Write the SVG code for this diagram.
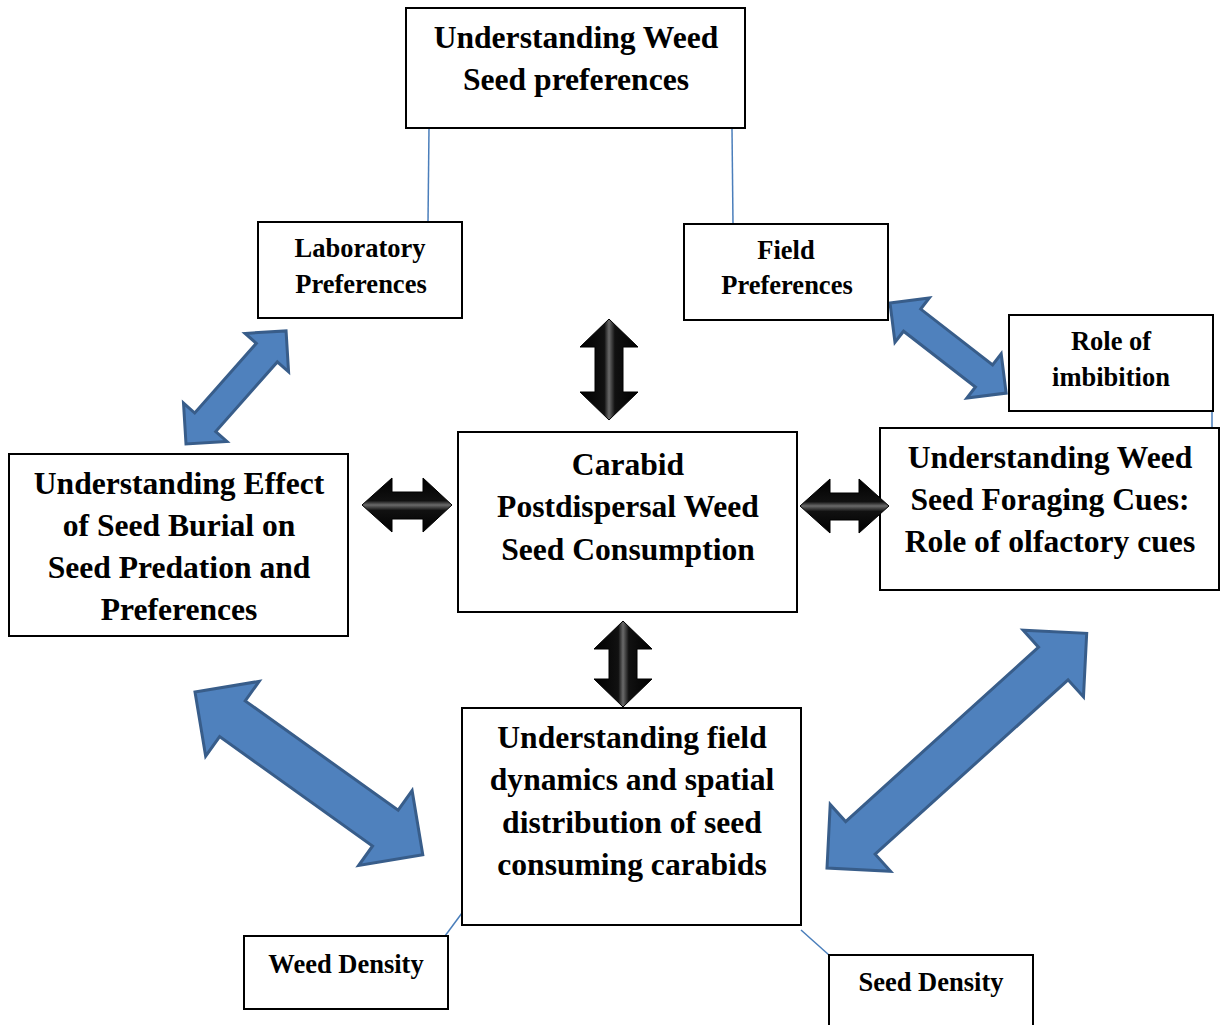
<svg xmlns="http://www.w3.org/2000/svg" width="1222" height="1025" viewBox="0 0 1222 1025">
<style>
.box{fill:#fff;stroke:#000;stroke-width:2}
.t{font-family:"Liberation Serif","Times New Roman",serif;font-weight:bold;text-anchor:middle;fill:#000}
.big{font-size:31.6px}
.sm{font-size:26.5px}
.ln{stroke:#4a7ebb;stroke-width:1.5;fill:none}
.blue{fill:#4f81bd;stroke:#385d8a;stroke-width:3;stroke-linejoin:miter}
.bv{fill:url(#gv);stroke:#000;stroke-width:1}
.bh{fill:url(#gh);stroke:#000;stroke-width:1}
</style>
<defs>
<linearGradient id="gv" x1="0" y1="0" x2="1" y2="0">
<stop offset="0" stop-color="#000"/>
<stop offset="0.42" stop-color="#111"/>
<stop offset="0.5" stop-color="#6a6a6a"/>
<stop offset="0.6" stop-color="#111"/>
<stop offset="1" stop-color="#000"/>
</linearGradient>
<linearGradient id="gh" x1="0" y1="0" x2="0" y2="1">
<stop offset="0" stop-color="#000"/>
<stop offset="0.42" stop-color="#111"/>
<stop offset="0.5" stop-color="#6a6a6a"/>
<stop offset="0.6" stop-color="#111"/>
<stop offset="1" stop-color="#000"/>
</linearGradient>
</defs>
<g id="connectors-back">
<line class="ln" x1="429" y1="128" x2="428" y2="222"/>
<line class="ln" x1="732" y1="129" x2="733" y2="224"/>
<line class="ln" x1="1212" y1="411" x2="1212" y2="434"/>
<line class="ln" x1="462" y1="913" x2="445" y2="936"/>
<line class="ln" x1="801" y1="930" x2="829" y2="955"/>
<polygon class="blue" transform="translate(186,444) rotate(-48.5)" points="0,0 29,-29 29,-14 122,-14 122,-29 151,0 122,29 122,14 29,14 29,29"/>
<polygon class="blue" transform="translate(890,303) rotate(37.8)" points="0,0 28,-28 28,-14 119,-14 119,-28 147,0 119,28 119,14 28,14 28,28"/>
<polygon class="blue" transform="translate(195,692) rotate(35.56)" points="0,0 46,-46 46,-22 234,-22 234,-46 280,0 234,46 234,22 46,22 46,46"/>
<polygon class="blue" transform="translate(827,868) rotate(-42.1)" points="0,0 45,-45 45,-22 305,-22 305,-45 350,0 305,45 305,22 45,22 45,45"/>
</g>
<g id="top">
<rect class="box" x="406" y="8" width="339" height="120"/>
<text class="t big" x="576" y="48">Understanding Weed</text>
<text class="t big" x="576" y="90">Seed preferences</text>
</g>
<g id="lab">
<rect class="box" x="258" y="222" width="204" height="96"/>
<text class="t sm" x="360" y="257">Laboratory</text>
<text class="t sm" x="361" y="293">Preferences</text>
</g>
<g id="field">
<rect class="box" x="684" y="224" width="204" height="96"/>
<text class="t sm" x="786" y="259">Field</text>
<text class="t sm" x="787" y="294">Preferences</text>
</g>
<g id="role">
<rect class="box" x="1009" y="315" width="204" height="96"/>
<text class="t sm" x="1111" y="350">Role of</text>
<text class="t sm" x="1111" y="386">imbibition</text>
</g>
<g id="center">
<rect class="box" x="458" y="432" width="339" height="180"/>
<text class="t big" x="628" y="475">Carabid</text>
<text class="t big" x="628" y="517">Postdispersal Weed</text>
<text class="t big" x="628" y="560">Seed Consumption</text>
</g>
<g id="left">
<rect class="box" x="9" y="454" width="339" height="182"/>
<text class="t big" x="179" y="494">Understanding Effect</text>
<text class="t big" x="179" y="536">of Seed Burial on</text>
<text class="t big" x="179" y="578">Seed Predation and</text>
<text class="t big" x="179" y="620">Preferences</text>
</g>
<g id="right">
<rect class="box" x="880" y="428" width="339" height="162"/>
<text class="t big" x="1050" y="468">Understanding Weed</text>
<text class="t big" x="1050" y="510">Seed Foraging Cues:</text>
<text class="t big" x="1050" y="552">Role of olfactory cues</text>
</g>
<g id="bottom">
<rect class="box" x="462" y="708" width="339" height="217"/>
<text class="t big" x="632" y="748">Understanding field</text>
<text class="t big" x="632" y="790">dynamics and spatial</text>
<text class="t big" x="632" y="833">distribution of seed</text>
<text class="t big" x="632" y="875">consuming carabids</text>
</g>
<g id="weed">
<rect class="box" x="244" y="936" width="204" height="73"/>
<text class="t sm" x="346" y="973">Weed Density</text>
</g>
<g id="seed">
<rect class="box" x="829" y="955" width="204" height="80"/>
<text class="t sm" x="931" y="991">Seed Density</text>
</g>
<g id="connectors-front">
<polygon class="bv" points="609,319 638,347 623,347 623,392 638,392 609,420 580,392 595,392 595,347 580,347"/>
<polygon class="bv" points="623,621 652,649 637,649 637,679 652,679 623,707 594,679 609,679 609,649 594,649"/>
<polygon class="bh" points="362,505 392,478 392,492 423,492 423,478 452,505 423,532 423,519 392,519 392,532"/>
<polygon class="bh" points="800,506 830,479 830,493 859,493 859,479 889,506 859,533 859,520 830,520 830,533"/>
</g>
</svg>
